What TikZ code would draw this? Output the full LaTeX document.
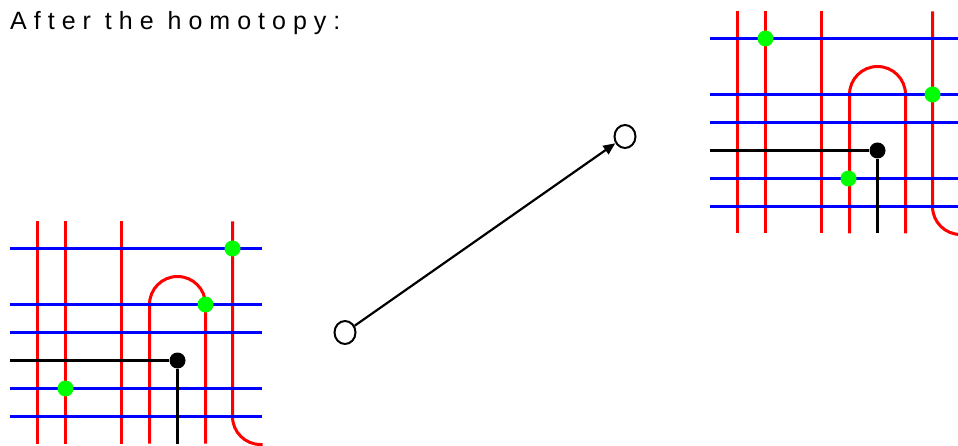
\documentclass[tikz,border=0pt]{standalone}
\usepackage{fontspec}
\setmainfont{Liberation Sans}
\newfontfamily\spacedfont[LetterSpace=28]{Liberation Sans}
\usetikzlibrary{shapes.geometric,arrows.meta}
\tikzset{
  redline/.style={draw=red, line width=3pt},
  blueline/.style={draw=blue, line width=3pt},
  blackline/.style={draw=black, line width=3pt},
  greendot/.style={circle, fill=green, inner sep=0pt, minimum size=16pt},
  blackdot/.style={circle, fill=black, inner sep=0pt, minimum size=16pt},
  endpoint/.style={ellipse, draw=black, line width=2pt, minimum width=21pt, minimum height=23pt, inner sep=0pt}
}
\newcommand\homgrid{%
  \foreach \xx in {38,66,122} {\draw[redline] (\xx,222) -- (\xx,444);}
  \draw[redline] (150,444) -- (150,305) arc[start angle=180, delta angle=180, radius=28] -- (206,444);
  \draw[redline] (233,222) -- (233,417) arc[start angle=180, delta angle=-90, radius=28] -- (263,445);
  \foreach \yy in {249,305,333,389,417} {\draw[blueline] (10,\yy) -- (262,\yy);}
}
\begin{document}
\begin{tikzpicture}[x=1pt,y=-1pt]
\useasboundingbox (0,0) rectangle (958,446);
\node[anchor=base west, inner sep=0pt, font=\spacedfont\fontsize{25}{30}\selectfont] (title) at (10,30) {After the homotopy:};
% left grid
\begin{scope}[shift={(-0.5,-0.5)}]
  \homgrid
  \node[blackdot] (k1) at (178,361) {};
  \coordinate (k1w) at (10,361);
  \coordinate (k1s) at (178,444);
  \draw[blackline] (k1w) -- (k1) -- (k1s);
  \node[greendot] (g1) at (233,249) {};
  \node[greendot] (g2) at (206,305) {};
  \node[greendot] (g3) at (66,389) {};
\end{scope}
% right grid
\begin{scope}[shift={(699.5,-210.5)}]
  \homgrid
  \node[blackdot] (k2) at (178,361) {};
  \coordinate (k2w) at (10,361);
  \coordinate (k2s) at (178,444);
  \draw[blackline] (k2w) -- (k2) -- (k2s);
  \node[greendot] (h1) at (66,249) {};
  \node[greendot] (h2) at (233,305) {};
  \node[greendot] (h3) at (149,389) {};
\end{scope}
% arrow
\node[endpoint] (a) at (345,332.5) {};
\node[endpoint] (b) at (625,136.5) {};
\draw[line width=2.2pt, -{Triangle[length=12pt,width=10pt]}] (a) -- (b);
\end{tikzpicture}
\end{document}
